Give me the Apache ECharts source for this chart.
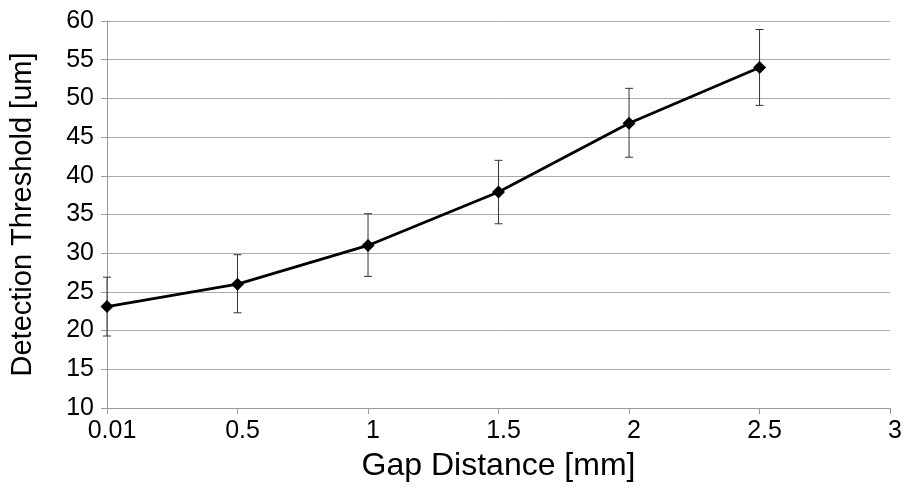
<!DOCTYPE html>
<html><head><meta charset="utf-8">
<script src="https://cdn.jsdelivr.net/npm/echarts@6/dist/echarts.min.js"></script>
<style>html,body{margin:0;padding:0;background:#fff}#c{width:905px;height:489px}</style>
</head><body><div id="c"></div>
<script>
const categories = ['0.01','0.5','1','1.5','2','2.5','3'];
const threshold = [23.1, 26.0, 31.0, 37.9, 46.8, 54.0];
const errLow = [19.3, 22.3, 27.0, 33.8, 42.4, 49.1];
const errHigh = [26.9, 29.8, 35.1, 42.0, 51.3, 58.9];
const yTicks = [10, 15, 20, 25, 30, 35, 40, 45, 50, 55, 60];

const errData = threshold.map((v, i) => [i, errLow[i], errHigh[i]]);
const font = 'Liberation Sans, Arial, sans-serif';
const chart = echarts.init(document.getElementById('c'));
chart.setOption({
  animation: false,
  grid: {left: 106, right: 13, top: 21, bottom: 81},
  xAxis: {
    type: 'category', data: categories, boundaryGap: false,
    name: 'Gap Distance [mm]', nameLocation: 'middle', nameGap: 42,
    nameTextStyle: {fontSize: 32, color: '#000', fontFamily: font},
    axisLine: {lineStyle: {color: '#999', width: 1}},
    axisTick: {show: true, length: 6, lineStyle: {color: '#999'}},
    axisLabel: {fontSize: 25, color: '#000', fontFamily: font, margin: 11, padding: [0, 0, 0, 10]},
    splitLine: {show: false}
  },
  yAxis: {
    type: 'value', min: yTicks[0], max: yTicks[yTicks.length-1], interval: 5,
    name: 'Detection Threshold [um]', nameLocation: 'middle', nameGap: 70,
    nameTextStyle: {fontSize: 29, color: '#000', fontFamily: font},
    axisLine: {show: true, lineStyle: {color: '#999', width: 1}},
    axisTick: {show: true, length: 6, lineStyle: {color: '#999'}},
    axisLabel: {fontSize: 25, color: '#000', fontFamily: font, margin: 13},
    splitLine: {lineStyle: {color: '#aaa', width: 1}}
  },
  series: [
    {
      type: 'custom', data: errData, z: 1,
      renderItem: function (params, api) {
        const x = api.value(0);
        const lo = api.coord([x, api.value(1)]);
        const hi = api.coord([x, api.value(2)]);
        const w = 4;
        const st = {stroke: '#333', lineWidth: 1};
        return {type: 'group', children: [
          {type: 'line', shape: {x1: lo[0], y1: lo[1], x2: hi[0], y2: hi[1]}, style: st},
          {type: 'line', shape: {x1: lo[0]-w, y1: lo[1], x2: lo[0]+w, y2: lo[1]}, style: st},
          {type: 'line', shape: {x1: hi[0]-w, y1: hi[1], x2: hi[0]+w, y2: hi[1]}, style: st}
        ]};
      }
    },
    {
      type: 'line', data: threshold, z: 3,
      symbol: 'diamond', symbolSize: 13,
      lineStyle: {color: '#000', width: 2.8},
      itemStyle: {color: '#000'}
    }
  ]
});
</script></body></html>
